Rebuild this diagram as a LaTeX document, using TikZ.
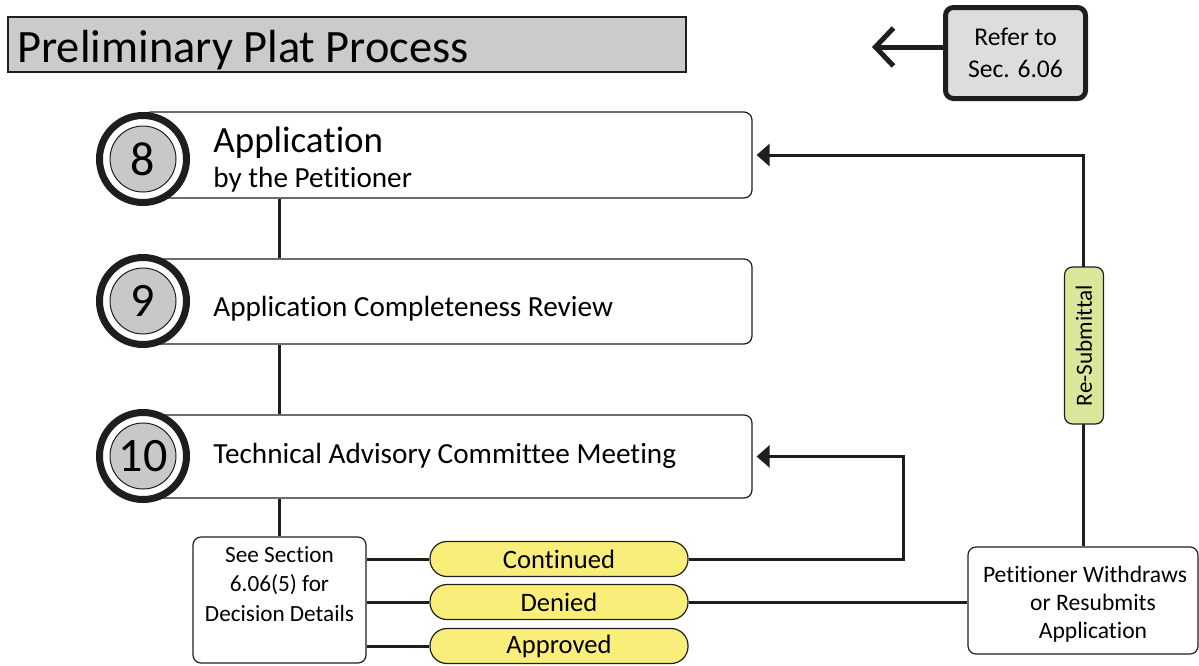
\documentclass[tikz,border=0pt]{standalone}
\usepackage{fontspec}
\setmainfont{Carlito}[Ligatures=NoCommon]
\usetikzlibrary{arrows.meta,positioning}
\definecolor{titlegray}{HTML}{CBCBCB}
\definecolor{refgray}{HTML}{DDDDDD}
\definecolor{numgray}{HTML}{C8C8C8}
\definecolor{pillyellow}{HTML}{FAEE7A}
\definecolor{pillgreen}{HTML}{DCE69B}
\definecolor{inkc}{HTML}{1E1E1E}
\tikzset{
  titlebox/.style={draw=inkc, line width=0.7pt, fill=titlegray, minimum width=339pt, minimum height=27.5pt, inner sep=0pt},
  refbox/.style={draw=inkc, line width=2.5pt, fill=refgray, rounded corners=4pt, minimum width=70pt, minimum height=45.5pt, align=center, font=\fontsize{12.8pt}{16pt}\selectfont, inner sep=0pt},
  stepbox/.style={draw=inkc, line width=0.6pt, fill=white, rounded corners=4pt, minimum width=304.5pt, minimum height=43pt, inner sep=0pt},
  ring/.style={circle, draw=inkc, line width=3.5pt, fill=white, minimum size=43.5pt, inner sep=0pt},
  numdisc/.style={circle, draw=inkc, line width=0.5pt, fill=numgray, minimum size=33pt, inner sep=0pt, font=\fontsize{24pt}{24pt}\selectfont},
  steptext/.style={anchor=base west, inner sep=0pt, font=\fontsize{14.6pt}{17pt}\selectfont},
  notebox/.style={draw=inkc, line width=0.6pt, fill=white, rounded corners=4pt, inner sep=0pt},
  pill/.style={draw=inkc, line width=0.6pt, fill=pillyellow, rounded corners=8.5pt, minimum width=129pt, minimum height=17.5pt, inner sep=0pt, font=\fontsize{13.3pt}{15pt}\selectfont},
  conn/.style={draw=inkc, line width=1.5pt},
  tip/.style={-{Triangle[length=6.5pt,width=11pt]}, shorten >=2pt},
}
\begin{document}
\begin{tikzpicture}[x=0.5pt,y=-0.5pt]
\useasboundingbox (0,0) rectangle (1199,665);
% title
\node[titlebox] (title) at (347,44.5) {};
\node[anchor=base west, inner sep=0pt, font=\fontsize{23.2pt}{26pt}\selectfont] (titletext) at (17,62) {Preliminary Plat Process};
% refer box
\node[refbox] (refer) at (1015.5,53) {Refer to\\Sec. 6.06};
\coordinate (refertip) at (872,47);
\draw[draw=inkc, line width=2.5pt, -{Straight Barb[length=9pt,width=19pt]}] (refer.west |- refertip) -- (refertip);
% step boxes
\node[stepbox] (box8) at (447.5,155) {};
\node[stepbox, minimum height=42.5pt] (box9) at (447.5,301.5) {};
\node[stepbox, minimum height=41.5pt] (box10) at (447.5,456.5) {};
% note box
\node[notebox, minimum width=86.5pt, minimum height=63pt] (see) at (279.5,600) {};
\node[align=center, inner sep=0pt, font=\fontsize{11.6pt}{14.8pt}\selectfont] (seetext) at (279.5,584) {See Section\\6.06(5) for\\Decision Details};
% connectors between steps
\draw[conn] (box8.south -| see.north) -- (box9.north -| see.north);
\draw[conn] (box9.south -| see.north) -- (box10.north -| see.north);
\draw[conn] (box10.south -| see.north) -- (see.north);
% circles
\node[ring] (ring8) at (143,159) {};
\node[numdisc] (n8) at (ring8.center) {8};
\node[ring] (ring9) at (143,301) {};
\node[numdisc] (n9) at (ring9.center) {9};
\node[ring] (ring10) at (143,456) {};
\node[numdisc] (n10) at (ring10.center) {10};
% step texts
\node[steptext, font=\fontsize{18.5pt}{20pt}\selectfont] (t8a) at (213,152) {Application};
\node[steptext] (t8b) at (213,187) {by the Petitioner};
\node[steptext] (t9) at (213,316) {Application Completeness Review};
\node[steptext] (t10) at (213,463) {Technical Advisory Committee Meeting};
% pills
\node[pill] (cont) at (559,559) {Continued};
\node[pill] (den) at (559,602) {Denied};
\node[pill] (appr) at (559,646) {Approved};
\draw[conn] (see.east |- cont.west) -- (cont.west);
\draw[conn] (see.east |- den.west) -- (den.west);
\draw[conn] (see.east |- appr.west) -- (appr.west);
% petitioner box
\node[notebox, minimum width=115pt, minimum height=53.5pt] (pet) at (1083,600.5) {};
\node[align=center, inner sep=0pt, font=\fontsize{11.8pt}{14pt}\selectfont] (pettext) at (1085,604) {Petitioner Withdraws\\\hspace*{8pt}or Resubmits\\\hspace*{8pt}Application};
% loops
\coordinate (loopc) at (903,500);
\draw[conn, tip] (cont.east) -| (loopc) |- (box10.east);
\draw[conn] (den.east) -- (pet.west |- den.east);
\draw[conn, tip] (pet.north) |- (box8.east);
\node[draw=inkc, line width=0.6pt, fill=pillgreen, rounded corners=4pt, rotate=90, minimum width=78.5pt, minimum height=19.5pt, inner sep=0pt, font=\fontsize{11.6pt}{13pt}\selectfont] (resub) at (1084,345.5) {Re-Submittal};
\end{tikzpicture}
\end{document}
